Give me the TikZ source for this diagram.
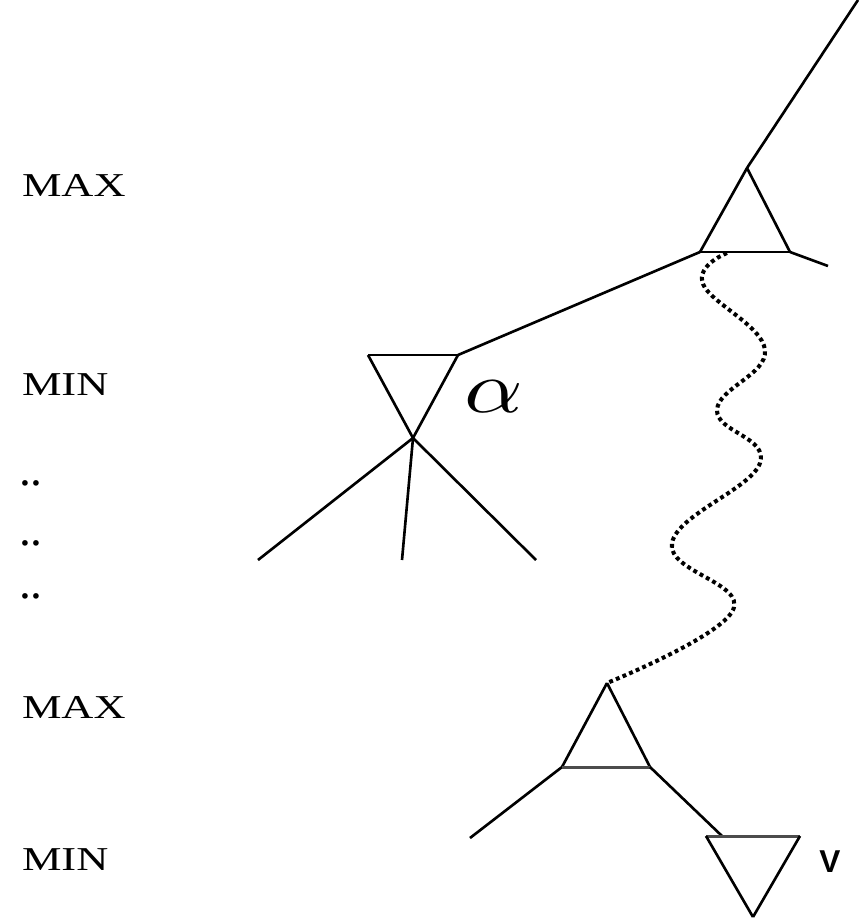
\documentclass[tikz,border=0pt]{standalone}
\usepackage{fontspec}
\setmainfont{Liberation Serif}
\setsansfont{Liberation Sans}
\usetikzlibrary{calc}
\tikzset{
every picture/.style={line width=1.5pt, x=0.02cm, y=-0.02cm},
%%%%%%%%%%  Node styles
emptynode/.style={circle,minimum size=0pt, inner sep=0pt, outer sep=0},
levellabel/.style={anchor=west, inner sep=0pt, outer sep=0,
                   font=\fontsize{19}{20}\selectfont, xscale=1.33, transform shape},
dotslabel/.style={anchor=west, inner sep=0pt, outer sep=0,
                  font=\fontsize{27}{27}\selectfont},
%%%% line styles
tree/.style={black},
base/.style={line width=1.7pt, black!70},
path_line/.style={line width=2.3pt, dash pattern=on 2.2pt off 1.9pt}
}

\begin{document}
\begin{tikzpicture}
\useasboundingbox (0,0) rectangle (861,923);
%% level labels
\node[levellabel] (max1) at (22,185) {MAX};
\node[levellabel] (min1) at (22,385) {MIN};
\node[dotslabel] (dots1) at (19,483) {..};
\node[dotslabel] (dots2) at (19,543) {..};
\node[dotslabel] (dots3) at (19,596) {..};
\node[levellabel] (max2) at (22,707) {MAX};
\node[levellabel] (min2) at (22,860) {MIN};
%%%%%%%%%%%%%%%%%%%%%%%%%%%%%%%%%%%%%%%%%%%%%%
%% top MAX node
\node[emptynode] (top) at (858,0) {};
\node[emptynode] (a1) at (747,168) {};
\node[emptynode] (bl1) at (700,252) {};
\node[emptynode] (br1) at (790,252) {};
\node[emptynode] (r1) at (828,266) {};
\draw[tree] (top) -- (a1) -- (bl1);
\draw[tree] (a1) -- (br1) -- (r1);
\draw[line width=1.7pt] (bl1) -- (br1);
%% MIN node with alpha
\node[emptynode] (tl2) at (368,355) {};
\node[emptynode] (tr2) at (458,355) {};
\node[emptynode] (ap2) at (413,438) {};
\draw[tree] (bl1) -- (tr2);
\draw[line width=1.7pt] (tl2) -- (tr2);
\draw[tree] (tl2) -- (ap2) -- (tr2);
\node[emptynode] (c1) at (258,560) {};
\node[emptynode] (c2) at (402,560) {};
\node[emptynode] (c3) at (536,560) {};
\draw[tree] (ap2) -- (c1);
\draw[tree] (ap2) -- (c2);
\draw[tree] (ap2) -- (c3);
\node[inner sep=0] (alpha) at (494,397) {\scalebox{5.2}[4.2]{$\alpha$}};
%%%%%%%%%%%%%%%%%%%%%%%%%%%%%%%%%%%%%%%%%%%%%%
%% bottom MAX node
\node[emptynode] (a3) at (607,683) {};
\node[emptynode] (bl3) at (562,767) {};
\node[emptynode] (br3) at (650,767) {};
\node[emptynode] (l3) at (470,838) {};
\draw[tree] (l3) -- (bl3) -- (a3) -- (br3);
\draw[base] (bl3) -- (br3);
%% bottom MIN node
\node[emptynode] (tl4) at (706,836) {};
\node[emptynode] (tr4) at (800,836) {};
\node[emptynode] (ap4) at (753,917) {};
\coordinate (m4) at (722,836);
\draw[tree] (br3) -- (m4);
\draw[base] (tl4) -- (tr4);
\draw[tree] (tl4) -- (ap4) -- (tr4);
\node[anchor=west, inner sep=0, font=\sffamily\bfseries\fontsize{18}{18}\selectfont] (v) at (818,862) {V};
%%%%%%%%%%%%%%%%%%%%%%%%%%%%%%%%%%%%%%%%%%%%%%
%% principal variation, drawn wavy
\draw[path_line] plot[smooth, tension=0.7] coordinates {(727,253) (703,284) (765,350) (717,410) (760,463) (672,543) (733,610) (607,683)};
\end{tikzpicture}
\end{document}
